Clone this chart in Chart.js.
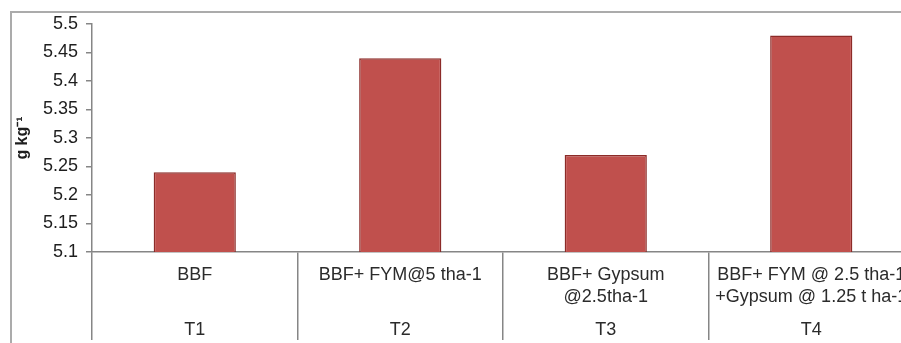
<!DOCTYPE html>
<html>
<head>
<meta charset="utf-8">
<script src="https://cdn.jsdelivr.net/npm/chart.js@4/dist/chart.umd.min.js"></script>
<style>
  html, body { margin: 0; padding: 0; background: #fff; overflow: hidden; width: 901px; height: 343px; }
  #frame { position: absolute; left: 10px; top: 11px; width: 1000px; height: 400px;
           border-top: 2px solid #ababab; border-left: 2px solid #ababab; z-index: 0; }
  #c { position: absolute; left: 0; top: 0; z-index: 1; }
</style>
</head>
<body>
<div id="frame"></div>
<canvas id="c" width="914" height="343"></canvas>
<script>
// ---- data ----
const treatments = ["T1", "T2", "T3", "T4"];
const descriptions = [
  ["BBF"],
  ["BBF+ FYM@5 tha-1"],
  ["BBF+ Gypsum", "@2.5tha-1"],
  ["BBF+ FYM @ 2.5 tha-1", "+Gypsum @ 1.25 t ha-1"]
];
const values = [5.24, 5.44, 5.27, 5.48];
const yTicks = ["5.1", "5.15", "5.2", "5.25", "5.3", "5.35", "5.4", "5.45", "5.5"];
const yTitle = "g kg\u207B\u00B9";

// build multi-line labels: description line(s), then treatment code at the bottom
const labels = treatments.map((t, i) => {
  const d = descriptions[i];
  const lines = [d[0], "", d[1] || "", "", "", t];
  return lines;
});

const axisGray = "#868686";
const font = "'Liberation Sans', Arial, sans-serif";

new Chart(document.getElementById("c"), {
  type: "bar",
  data: {
    labels: labels,
    datasets: [{
      data: values,
      backgroundColor: "#C0504D",
      borderColor: "#8C2B28",
      borderWidth: 1.5,
      categoryPercentage: 1.0,
      barPercentage: 0.4
    }]
  },
  options: {
    responsive: false,
    animation: false,
    layout: { padding: { top: 24, left: 0, right: 0, bottom: 0 } },
    plugins: { legend: { display: false }, tooltip: { enabled: false } },
    scales: {
      x: {
        offset: true,
        grid: { display: true, drawOnChartArea: false, drawTicks: true, tickLength: 88,
                offset: true, color: axisGray, lineWidth: 1.5 },
        border: { display: true, color: axisGray, width: 1.5 },
        ticks: {
          autoSkip: false, maxRotation: 0, minRotation: 0,
          padding: -70.5,
          color: "#2b2b2b",
          font: { family: font, size: 18, lineHeight: "11px" }
        },
        afterFit: (s) => { s.height = 91; }
      },
      y: {
        min: 5.1, max: 5.5,
        grid: { display: true, drawOnChartArea: false, drawTicks: true, tickLength: 6,
                color: axisGray, lineWidth: 1.5 },
        border: { display: true, color: axisGray, width: 1.5 },
        ticks: {
          stepSize: 0.05,
          padding: 8,
          color: "#1e1e1e",
          font: { family: font, size: 18 },
          callback: (v, i) => yTicks[i]
        },
        title: {
          display: true, text: yTitle, color: "#1e1e1e",
          font: { family: font, size: 16, weight: "bold" },
          padding: { top: 13, bottom: 0 }
        },
        afterFit: (s) => { s.width = 92; }
      }
    }
  }
});
</script>
</body>
</html>
